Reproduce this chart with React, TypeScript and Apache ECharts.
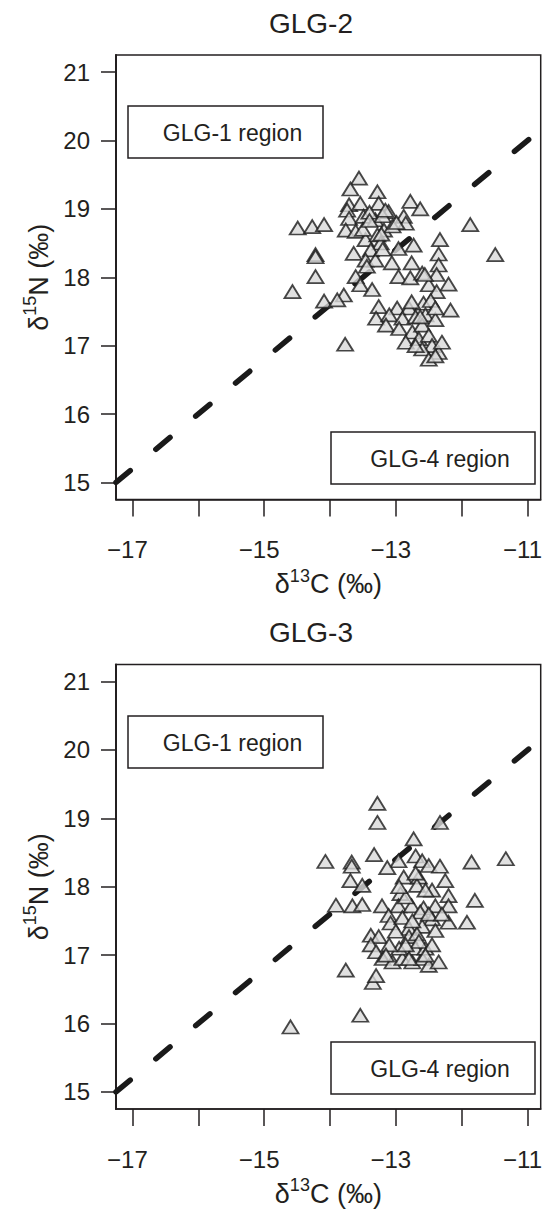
import React, { useEffect, useRef } from "react";
import * as echarts from "echarts";

// Panel titles
const panelTitles = ["GLG-2", "GLG-3"];

// Axis ticks
const xTickValues = [-17, -16, -15, -14, -13, -12, -11];
const xLabelValues = [-17, -15, -13, -11];
const yTickValues = [15, 16, 17, 18, 19, 20, 21];

// Dashed reference line (δ13C, δ15N)
const refLineX = [-17.25, -10.8];
const refLineY = [15.0, 20.16];

// GLG-2 (top panel) points
const glg2C = [
  -13.56, -13.69, -13.28, -13.71, -13.74, -13.54, -13.26, -13.11, -12.78, -12.63,
  -12.88, -12.85, -13.71, -13.49, -13.31, -13.76, -13.61, -13.18, -14.49, -14.27,
  -14.09, -13.46, -13.28, -13.23, -11.87, -12.33, -12.96, -12.73, -14.22, -14.22,
  -13.64, -13.38, -12.35, -11.49, -13.46, -13.31, -13.06, -12.76, -12.35, -13.44,
  -14.22, -13.61, -12.96, -12.78, -12.60, -12.38, -12.20, -13.54, -13.36, -12.50,
  -12.38, -14.57, -14.09, -13.79, -13.89, -13.26, -12.98, -12.80, -12.58, -12.17,
  -13.40, -13.20, -13.05, -13.50, -13.77,
  -13.30, -13.10, -12.90, -12.70, -12.55, -12.40, -13.15, -12.95, -12.75, -12.60,
  -12.85, -12.65, -12.50, -12.45, -12.60, -12.35, -12.50, -12.40, -12.30, -12.70,
  -13.40, -13.16, -12.99, -13.22, -13.20, -12.56, -12.76, -12.47, -12.63, -12.40,
];
const glg2N = [
  19.45, 19.29, 19.25, 19.06, 18.98, 19.08, 19.08, 18.96, 19.11, 19.0,
  18.89, 18.79, 18.86, 18.89, 18.84, 18.69, 18.67, 18.69, 18.72, 18.74,
  18.77, 18.55, 18.62, 18.50, 18.77, 18.55, 18.42, 18.47, 18.33, 18.30,
  18.35, 18.40, 18.34, 18.33, 18.25, 18.25, 18.21, 18.21, 18.18, 18.16,
  18.01, 18.01, 18.01, 17.99, 18.06, 18.04, 17.90, 17.89, 17.82, 17.89,
  17.79, 17.79, 17.65, 17.74, 17.67, 17.57, 17.55, 17.55, 17.62, 17.52,
  18.95, 18.90, 18.75, 18.70, 17.02,
  17.40, 17.45, 17.40, 17.42, 17.45, 17.38, 17.30, 17.25, 17.20, 17.30,
  17.05, 17.10, 17.15, 17.00, 16.95, 16.90, 16.80, 16.85, 17.05, 17.00,
  18.83, 18.98, 18.80, 18.63, 18.41, 18.04, 17.64, 17.66, 17.42, 17.55,
];

// GLG-3 (bottom panel) points
const glg3C = [
  -13.28, -13.28, -12.33, -12.73, -13.33, -14.07, -13.67, -13.67, -11.85, -11.33,
  -12.96, -12.70, -12.60, -12.50, -12.33, -13.13, -12.88, -12.65, -12.25, -13.69,
  -13.51, -12.68, -12.45, -12.93, -12.20, -11.80, -13.91, -13.66, -13.51, -13.21,
  -12.96, -12.76, -12.58, -12.40, -12.20, -13.11, -12.63, -12.45, -12.20, -11.92,
  -13.08, -12.80, -12.60, -12.40, -13.38, -13.26, -12.80, -12.68,
  -13.38, -13.30, -13.20, -13.05, -12.90, -12.75, -12.60, -12.50, -12.35, -12.70,
  -12.95, -13.10, -12.55, -13.76, -13.35, -13.30, -13.54, -14.60,
  -12.85, -12.55, -12.90, -12.75, -12.50, -12.65, -12.85, -12.45, -13.00, -12.55,
  -12.80, -13.15, -12.70, -12.95, -12.30,
];
const glg3N = [
  19.22, 18.94, 18.94, 18.70, 18.47, 18.37, 18.36, 18.30, 18.36, 18.41,
  18.38, 18.45, 18.38, 18.31, 18.30, 18.28, 18.14, 18.14, 18.09, 18.09,
  18.02, 18.02, 17.95, 17.90, 17.87, 17.80, 17.73, 17.72, 17.74, 17.72,
  17.72, 17.72, 17.69, 17.72, 17.72, 17.58, 17.63, 17.53, 17.48, 17.48,
  17.47, 17.39, 17.42, 17.36, 17.29, 17.27, 17.27, 17.31,
  17.15, 17.05, 16.95, 16.90, 16.95, 16.90, 16.95, 16.85, 16.90, 17.10,
  17.10, 17.15, 17.10, 16.78, 16.60, 16.70, 16.12, 15.95,
  17.85, 17.95, 17.55, 17.50, 17.60, 17.20, 17.15, 17.15, 17.35, 17.00,
  16.95, 17.00, 18.20, 18.00, 17.60,
];

const TEXT = "#231f20";
const FONT = "Liberation Sans, Arial, Helvetica, sans-serif";

const pairs = (xs: number[], ys: number[]) => xs.map((x, i) => [x, ys[i]]);

export default function App() {
  const ref = useRef<HTMLDivElement>(null);

  useEffect(() => {
    if (!ref.current) return;
    const chart = echarts.init(ref.current, null, { renderer: "svg" });

    const gridTops = [55, 664.5];
    const gridH = 444.5;
    const gridLeft = 116;
    const gridW = 427;

    const grids = gridTops.map((t) => ({
      left: gridLeft,
      top: t,
      width: gridW,
      height: gridH,
      show: true,
      borderColor: TEXT,
      borderWidth: 1.5,
      backgroundColor: "transparent",
    }));

    const richName = (fs: number, ss: number) => ({
      d: { fontSize: fs, fontFamily: FONT, color: TEXT, lineHeight: fs + 4, verticalAlign: "bottom" },
      s: { fontSize: ss, fontFamily: FONT, color: TEXT, lineHeight: fs + 4, verticalAlign: "top" },
    });

    const xAxes = gridTops.map((_, i) => ({
      type: "value",
      gridIndex: i,
      min: -17.25,
      max: -10.8,
      splitLine: { show: false },
      axisLine: { show: true, onZero: false, lineStyle: { color: TEXT, width: 1.5 } },
      axisTick: {
        show: true,
        inside: false,
        length: 17,
        customValues: xTickValues,
        lineStyle: { color: TEXT, width: 1.5 },
      },
      axisLabel: {
        customValues: xLabelValues,
        margin: 38,
        fontSize: 24,
        fontFamily: FONT,
        color: TEXT,
        padding: [0, 10, 0, 0],
        formatter: (v: number) => String(v).replace("-", "\u2212"),
      },
      name: "{d|δ}{s|13}{d|C (‰)}",
      nameLocation: "middle",
      nameGap: 67,
      nameTextStyle: { rich: richName(27, 18) },
    }));

    const yAxes = gridTops.map((_, i) => ({
      type: "value",
      gridIndex: i,
      min: 14.75,
      max: 21.25,
      splitLine: { show: false },
      axisLine: { show: true, onZero: false, lineStyle: { color: TEXT, width: 2 } },
      axisTick: {
        show: true,
        inside: false,
        length: 15,
        customValues: yTickValues,
        lineStyle: { color: TEXT, width: 1.5 },
      },
      axisLabel: {
        customValues: yTickValues,
        margin: 26,
        fontSize: 24,
        fontFamily: FONT,
        color: TEXT,
      },
      name: "{d|δ}{s|15}{d|N (‰)}",
      nameLocation: "middle",
      nameGap: 61,
      nameRotate: 90,
      nameTextStyle: { rich: richName(27, 18) },
    }));

    const datasets = [pairs(glg2C, glg2N), pairs(glg3C, glg3N)];

    const series: any[] = [];
    gridTops.forEach((_, i) => {
      series.push({
        type: "line",
        xAxisIndex: i,
        yAxisIndex: i,
        data: pairs(refLineX, refLineY),
        symbol: "none",
        clip: true,
        z: 2,
        lineStyle: { color: "#1a1a1a", width: 5.5, type: [18.5, 33.3], cap: "round" },
        silent: true,
      });
      series.push({
        type: "scatter",
        xAxisIndex: i,
        yAxisIndex: i,
        data: datasets[i],
        symbol: "triangle",
        symbolSize: [16, 13],
        z: 3,
        itemStyle: { color: "#dadada", borderColor: "#1a1a1a", borderWidth: 1.8 },
      });
    });

    const boxes: any[] = [];
    const boxSpec = (x: number, y: number, w: number, h: number, label: string) => [
      {
        type: "rect",
        shape: { x, y, width: w, height: h },
        style: { fill: "#fff", stroke: TEXT, lineWidth: 1.5 },
        z: 10,
      },
      {
        type: "text",
        x: x + w / 2 + 7,
        y: y + h / 2 + 1,
        style: {
          text: label,
          fontSize: 23,
          fontFamily: FONT,
          fill: TEXT,
          textAlign: "center",
          textVerticalAlign: "middle",
        },
        z: 11,
      },
    ];
    boxes.push(...boxSpec(128, 106, 195, 52, "GLG-1 region"));
    boxes.push(...boxSpec(331, 432, 204, 52, "GLG-4 region"));
    boxes.push(...boxSpec(128, 716, 195, 52, "GLG-1 region"));
    boxes.push(...boxSpec(331, 1042, 204, 52, "GLG-4 region"));

    const titles = panelTitles.map((t, i) => ({
      type: "text",
      x: 311,
      y: [23, 632][i],
      style: {
        text: t,
        fontSize: 28,
        fontFamily: FONT,
        fill: TEXT,
        textAlign: "center",
        textVerticalAlign: "middle",
      },
    }));

    chart.setOption({
      animation: false,
      backgroundColor: "#fff",
      grid: grids,
      xAxis: xAxes,
      yAxis: yAxes,
      series,
      graphic: [...boxes, ...titles],
    });

    return () => chart.dispose();
  }, []);

  return (
    <div
      ref={ref}
      style={{ position: "absolute", left: 0, top: 0, width: 545, height: 1216 }}
    />
  );
}
